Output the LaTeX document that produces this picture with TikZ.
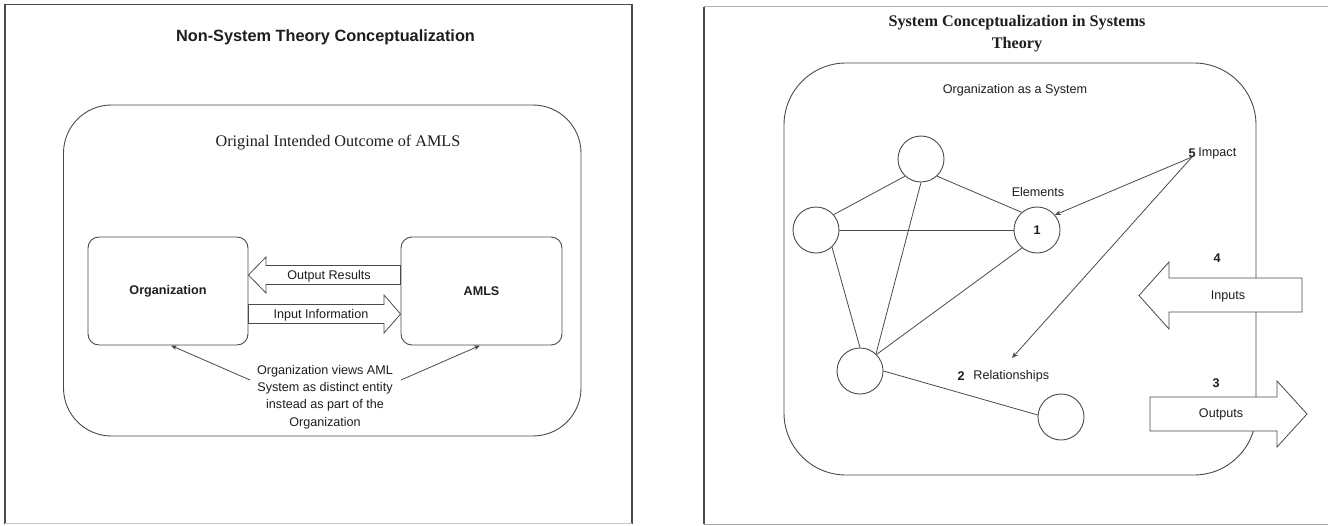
\documentclass[tikz,border=0pt]{standalone}
\usepackage{fontspec}
\setmainfont{Liberation Serif}
\setsansfont{Liberation Sans}
\usetikzlibrary{arrows.meta}
\newcommand{\lblfont}{\sffamily\fontsize{12.6}{17.3}\selectfont}
\newcommand{\bldfont}{\sffamily\bfseries\fontsize{12.6}{15}\selectfont}
\definecolor{ln}{HTML}{4A4A4A}
\definecolor{tx}{HTML}{1E1E1E}
\begin{document}
\begin{tikzpicture}[x=1pt,y=-1pt,
  line width=0.9pt,
  every node/.style={text=tx},
  frame/.style={draw=ln, line width=1.1pt},
  rbox/.style={draw=ln, fill=white, inner sep=0pt, rounded corners=#1},
  elem/.style={draw=ln, circle, minimum size=46pt, inner sep=0pt, font=\bldfont},
  edge/.style={draw=ln, line width=0.8pt},
  fat/.style={draw=ln, fill=white, line width=0.8pt},
  pointer/.style={draw=ln, line width=0.8pt, -{Stealth[length=6pt,width=5pt]}},
  lbl/.style={font=\lblfont, inner sep=0pt},
  bld/.style={font=\bldfont, inner sep=0pt}]
\useasboundingbox (0,0) rectangle (1328,525);
\fill[white] (0,0) rectangle (1328,525);

% ---------- left panel ----------
\draw[frame] (5,523.5) -- (5,4.5) -- (632,4.5) -- (632,523.5);
\draw[draw=gray!45, line width=1pt] (5,523.5) -- (632,523.5);
\node[font=\sffamily\bfseries\fontsize{16.3}{19}\selectfont, inner sep=0pt] (ltitle) at (325.5,37) {Non-System Theory Conceptualization};

\node[rbox=48pt, minimum width=517.5pt, minimum height=331pt] (outerL) at (322.25,270.5) {};
\node[font=\rmfamily\fontsize{16.2}{19}\selectfont, inner sep=0pt] (ltext) at (338,143) {Original Intended Outcome of AMLS};

\node[rbox=11pt, minimum width=160pt, minimum height=108pt, font=\bldfont] (org) at (168,291) {Organization};
\node[rbox=11pt, minimum width=161pt, minimum height=108pt, font=\bldfont] (amls) at (481.5,291) {AMLS};

% fat arrows
\draw[fat] (amls.west |- 0,265.5) -- (266,265.5) -- (266,257) -- (org.east |- 0,275) -- (266,293) -- (266,284.5) -- (amls.west |- 0,284.5) -- cycle;
\node[lbl] (outres) at (329,276) {Output Results};
\draw[fat] (org.east |- 0,304.5) -- (384,304.5) -- (384,295) -- (amls.west |- 0,314) -- (384,333) -- (384,323.5) -- (org.east |- 0,323.5) -- cycle;
\node[lbl] (ininfo) at (321,315) {Input Information};

\node[lbl, align=center] (note) at (325,397) {Organization views AML\\System as distinct entity\\instead as part of the\\Organization};
\coordinate (la) at (250,380);
\coordinate (ra) at (401,380);
\coordinate (lt) at (171,345.5);
\coordinate (rt) at (480,345.5);
\draw[pointer] (la) -- (lt);
\draw[pointer] (ra) -- (rt);

% ---------- right panel ----------
\draw[draw=gray!60, line width=1.1pt] (704,6.7) -- (1335,6.7);
\draw[frame] (704,6.7) -- (704,524);
\draw[draw=gray!70, line width=1pt] (704,524) -- (1335,524);
\node[font=\rmfamily\bfseries\fontsize{16.2}{22}\selectfont, align=center, inner sep=0pt] (rtitle) at (1017,34) {System Conceptualization in Systems\\Theory};

\node[rbox=62pt, minimum width=472pt, minimum height=412pt] (outerR) at (1020,269) {};
\node[lbl] (orgsys) at (1015,90) {Organization as a System};

\node[elem] (ctop) at (921,159) {};
\node[elem] (cleft) at (816,230) {};
\node[elem] (c1) at (1037,230) {1};
\node[elem] (cbl) at (860,371) {};
\node[elem] (cbr) at (1061,417) {};

\draw[edge] (ctop.227) -- (cleft.41);
\draw[edge] (ctop.313) -- (c1.131);
\draw[edge] (cleft.0) -- (c1.180);
\draw[edge] (cleft.313) -- (cbl.90);
\draw[edge] (ctop.270) -- (cbl.47);
\draw[edge] (c1.230) -- (cbl.45);
\draw[edge] (cbl.0) -- (cbr.175);

\node[lbl] (elements) at (1038,192) {Elements};
\node[bld] (n2) at (961,376.5) {2};
\node[lbl, anchor=west] (rel) at (973,376) {Relationships};
\node[bld] (n5) at (1192,153.5) {5};
\node[lbl, anchor=west] (impact) at (1198,153.5) {Impact};
\coordinate (imp) at (1192,157);
\coordinate (relp) at (1012,358);
\draw[pointer] (imp) -- (c1.40);
\draw[pointer] (imp) -- (relp);

% inputs / outputs
\draw[fat] (1302,278) -- (1169,278) -- (1169,262) -- (1139,295.5) -- (1169,329) -- (1169,312) -- (1302,312) -- cycle;
\node[lbl] (inputs) at (1228,296) {Inputs};
\node[bld] (n4) at (1217,258) {4};
\draw[fat] (1150,397) -- (1277,397) -- (1277,381) -- (1307,414) -- (1277,447) -- (1277,431) -- (1150,431) -- cycle;
\node[lbl] (outputs) at (1221,414) {Outputs};
\node[bld] (n3) at (1216,383) {3};
\end{tikzpicture}
\end{document}
